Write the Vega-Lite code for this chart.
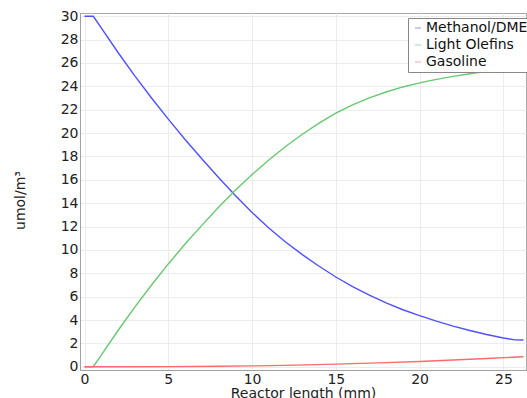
{
  "$schema": "https://vega.github.io/schema/vega-lite/v6.json",
  "width": 446,
  "height": 357,
  "autosize": {"type": "none"},
  "padding": {"left": 80, "top": 13, "right": 1, "bottom": 28},
  "background": "white",
  "config": {
    "font": "DejaVu Sans",
    "view": {"stroke": "#a8a8a8", "strokeWidth": 1},
    "axis": {
      "labelFont": "DejaVu Sans",
      "titleFont": "DejaVu Sans",
      "labelFontSize": 14,
      "titleFontSize": 14,
      "labelColor": "#222",
      "titleColor": "#222",
      "titleFontWeight": "normal",
      "gridColor": "#ececec",
      "gridWidth": 1,
      "domainColor": "#a0a0a0",
      "tickSize": 0,
      "labelPadding": 2
    },
    "legend": {
      "labelFont": "DejaVu Sans",
      "labelFontSize": 14,
      "labelColor": "#111"
    }
  },
  "data": {
    "values": [
      {"series": "Methanol/DME", "x": 0, "y": 30},
      {"series": "Methanol/DME", "x": 0.52, "y": 30},
      {"series": "Methanol/DME", "x": 1, "y": 29.0},
      {"series": "Methanol/DME", "x": 2, "y": 26.9},
      {"series": "Methanol/DME", "x": 3, "y": 24.9},
      {"series": "Methanol/DME", "x": 4, "y": 23.0},
      {"series": "Methanol/DME", "x": 5, "y": 21.2},
      {"series": "Methanol/DME", "x": 6, "y": 19.45},
      {"series": "Methanol/DME", "x": 7, "y": 17.8},
      {"series": "Methanol/DME", "x": 8, "y": 16.2},
      {"series": "Methanol/DME", "x": 9, "y": 14.65},
      {"series": "Methanol/DME", "x": 10, "y": 13.2},
      {"series": "Methanol/DME", "x": 11, "y": 11.88},
      {"series": "Methanol/DME", "x": 12, "y": 10.68},
      {"series": "Methanol/DME", "x": 13, "y": 9.6},
      {"series": "Methanol/DME", "x": 14, "y": 8.6},
      {"series": "Methanol/DME", "x": 15, "y": 7.68},
      {"series": "Methanol/DME", "x": 16, "y": 6.86},
      {"series": "Methanol/DME", "x": 17, "y": 6.12},
      {"series": "Methanol/DME", "x": 18, "y": 5.46},
      {"series": "Methanol/DME", "x": 19, "y": 4.88},
      {"series": "Methanol/DME", "x": 20, "y": 4.37},
      {"series": "Methanol/DME", "x": 21, "y": 3.9},
      {"series": "Methanol/DME", "x": 22, "y": 3.48},
      {"series": "Methanol/DME", "x": 23, "y": 3.1},
      {"series": "Methanol/DME", "x": 24, "y": 2.76},
      {"series": "Methanol/DME", "x": 25, "y": 2.46},
      {"series": "Methanol/DME", "x": 25.7, "y": 2.3},
      {"series": "Methanol/DME", "x": 26.2, "y": 2.29},
      {"series": "Light Olefins", "x": 0, "y": 0},
      {"series": "Light Olefins", "x": 0.52, "y": 0},
      {"series": "Light Olefins", "x": 1, "y": 1.0},
      {"series": "Light Olefins", "x": 2, "y": 3.1},
      {"series": "Light Olefins", "x": 3, "y": 5.1},
      {"series": "Light Olefins", "x": 4, "y": 7.0},
      {"series": "Light Olefins", "x": 5, "y": 8.8},
      {"series": "Light Olefins", "x": 6, "y": 10.5},
      {"series": "Light Olefins", "x": 7, "y": 12.1},
      {"series": "Light Olefins", "x": 8, "y": 13.65},
      {"series": "Light Olefins", "x": 9, "y": 15.1},
      {"series": "Light Olefins", "x": 10, "y": 16.45},
      {"series": "Light Olefins", "x": 11, "y": 17.7},
      {"series": "Light Olefins", "x": 12, "y": 18.85},
      {"series": "Light Olefins", "x": 13, "y": 19.9},
      {"series": "Light Olefins", "x": 14, "y": 20.85},
      {"series": "Light Olefins", "x": 15, "y": 21.7},
      {"series": "Light Olefins", "x": 16, "y": 22.42},
      {"series": "Light Olefins", "x": 17, "y": 23.02},
      {"series": "Light Olefins", "x": 18, "y": 23.52},
      {"series": "Light Olefins", "x": 19, "y": 23.95},
      {"series": "Light Olefins", "x": 20, "y": 24.3},
      {"series": "Light Olefins", "x": 21, "y": 24.6},
      {"series": "Light Olefins", "x": 22, "y": 24.86},
      {"series": "Light Olefins", "x": 23, "y": 25.08},
      {"series": "Light Olefins", "x": 24, "y": 25.28},
      {"series": "Light Olefins", "x": 25, "y": 25.46},
      {"series": "Light Olefins", "x": 26.2, "y": 25.65},
      {"series": "Gasoline", "x": 0, "y": 0},
      {"series": "Gasoline", "x": 2, "y": 0.0},
      {"series": "Gasoline", "x": 5, "y": 0.01},
      {"series": "Gasoline", "x": 8, "y": 0.04},
      {"series": "Gasoline", "x": 10, "y": 0.07},
      {"series": "Gasoline", "x": 12, "y": 0.12},
      {"series": "Gasoline", "x": 15, "y": 0.22},
      {"series": "Gasoline", "x": 18, "y": 0.35},
      {"series": "Gasoline", "x": 20, "y": 0.45},
      {"series": "Gasoline", "x": 22, "y": 0.57},
      {"series": "Gasoline", "x": 24, "y": 0.7},
      {"series": "Gasoline", "x": 26.2, "y": 0.86}
    ]
  },
  "mark": {"type": "line", "strokeWidth": 1.4, "clip": true},
  "encoding": {
    "x": {
      "field": "x",
      "type": "quantitative",
      "scale": {"domain": [-0.27, 26.35], "nice": false, "zero": false},
      "axis": {"values": [0, 5, 10, 15, 20, 25], "title": "Reactor length (mm)", "titlePadding": 0}
    },
    "y": {
      "field": "y",
      "type": "quantitative",
      "scale": {"domain": [-0.28, 30.28], "nice": false, "zero": false},
      "axis": {
        "values": [0, 2, 4, 6, 8, 10, 12, 14, 16, 18, 20, 22, 24, 26, 28, 30],
        "title": "umol/m³",
        "titleAngle": -90,
        "titleX": -56,
        "titleY": 187,
        "titleAlign": "center",
        "titleBaseline": "alphabetic"
      }
    },
    "color": {
      "field": "series",
      "type": "nominal",
      "scale": {
        "domain": ["Methanol/DME", "Light Olefins", "Gasoline"],
        "range": ["#5050ff", "#66c870", "#ff6a6a"]
      },
      "legend": {
        "title": null,
        "orient": "none",
        "legendX": 328,
        "legendY": 5,
        "symbolType": "stroke",
        "symbolSize": 36,
        "symbolStrokeWidth": 1,
        "symbolOpacity": 0.6,
        "labelOffset": 1,
        "rowPadding": 3,
        "padding": 3,
        "strokeColor": "#888",
        "fillColor": "white"
      }
    }
  }
}
